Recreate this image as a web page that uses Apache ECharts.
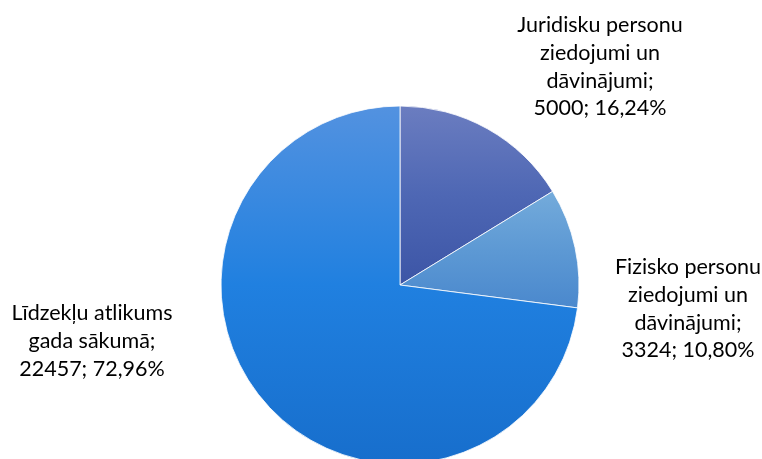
<!DOCTYPE html>
<html>
<head>
<meta charset="utf-8">
<script src="https://cdn.jsdelivr.net/npm/echarts@6/dist/echarts.min.js"></script>
<style>html,body{margin:0;padding:0;background:#fff;}#c{width:762px;height:459px;}</style>
</head>
<body>
<div id="c"></div>
<script>
const categories = ["Juridisku personu\nziedojumi un\ndāvinājumi", "Fizisko personu\nziedojumi un\ndāvinājumi", "Līdzekļu atlikums\ngada sākumā"];
const values = [5000, 3324, 22457];

const gradients = [["#6b7dc0", "#4e67b4", "#3c55a6"], ["#74abdb", "#5d99d4", "#4a88cd"], ["#5392e0", "#2080e0", "#176ecc"]];
const labelPos = [[600, 67], [688, 309], [92, 341]];

const chart = echarts.init(document.getElementById('c'), null, {renderer: 'canvas'});
chart.setOption({
  animation: false,
  backgroundColor: '#ffffff',
  series: [{
    type: 'pie',
    center: [400, 285],
    radius: 179,
    startAngle: 90,
    clockwise: true,
    data: categories.map((n, i) => ({
      name: n,
      value: values[i],
      itemStyle: {
        color: {type: 'linear', x: 0, y: 0, x2: 0, y2: 1,
          colorStops: [{offset: 0, color: gradients[i][0]}, {offset: 0.5, color: gradients[i][1]}, {offset: 1, color: gradients[i][2]}]}
      }
    })),
    itemStyle: {borderColor: 'rgba(255,255,255,0.8)', borderWidth: 1},
    label: {
      show: true,
      position: 'outside',
      fontFamily: 'Lato',
      fontSize: 21.5,
      lineHeight: 27.7,
      color: '#000',
      align: 'center',
      overflow: 'none',
      edgeDistance: 0,
      formatter: p => p.name + ';\n' + p.value + '; ' + p.percent.toFixed(2).replace('.', ',') + '%'
    },
    labelLine: {show: false},
    labelLayout: p => ({x: labelPos[p.dataIndex][0], y: labelPos[p.dataIndex][1], align: 'center', verticalAlign: 'middle'})
  }]
});
</script>
</body>
</html>
